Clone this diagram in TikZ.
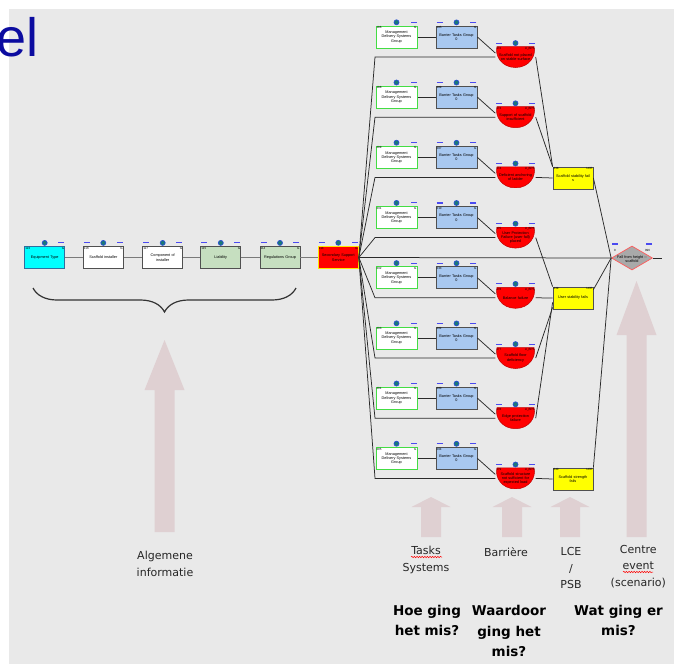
\documentclass[tikz,border=0pt]{standalone}
\usepackage{fontspec}
\setmainfont{DejaVu Sans}
\newfontfamily\arialf{Liberation Sans}
\usetikzlibrary{shapes.geometric,decorations.pathreplacing,decorations.pathmorphing,calc}
\definecolor{panel}{HTML}{E9E9E9}
\definecolor{navyt}{HTML}{0C0CA0}
\definecolor{pinkarr}{HTML}{DFD0D2}
\definecolor{dotfill}{HTML}{1A7878}
\definecolor{dotblue}{HTML}{2A4FD6}
\definecolor{dashblue}{HTML}{4A4AF0}
\definecolor{cyanbox}{HTML}{00FFFF}
\definecolor{cyanedge}{HTML}{2F6F9F}
\definecolor{greenbox}{HTML}{C6DFC0}
\definecolor{bluebox}{HTML}{A8C8F0}
\definecolor{mggreen}{HTML}{44DD44}
\definecolor{boxedge}{HTML}{505050}
\definecolor{chainline}{HTML}{7A7A7A}
\definecolor{linec}{HTML}{2A2A2A}
\definecolor{mainedge}{HTML}{FFE600}
\definecolor{dmfill}{HTML}{A9A9A9}
\definecolor{dmedge}{HTML}{FF5A5A}
\definecolor{yelbox}{HTML}{FFFF00}
\tikzset{
 numtxt/.style={font=\arialf\fontsize{3}{3.2}\selectfont, inner sep=0.8},
 nw/.style={label={[numtxt,anchor=north west]north west:#1}},
 ne/.style={label={[numtxt,anchor=north east]north east:#1}},
 box/.style={rectangle, draw=boxedge, line width=0.8, minimum width=40, minimum height=22, inner sep=0, text width=38, align=center, font=\arialf\fontsize{3.8}{4.3}\selectfont},
 chainbox/.style={box, fill=white},
 mgbox/.style={box, fill=white, draw=mggreen, line width=1, minimum width=41},
 bbox/.style={box, fill=bluebox, minimum width=41},
 ybox/.style={box, fill=yelbox},
 barrier/.style={rectangle, minimum width=40, minimum height=21, inner sep=0, text width=37, align=center, font=\arialf\fontsize{3.8}{4.3}\selectfont,
  path picture={\filldraw[fill=red, draw=red!75!black, line width=0.5]
   ([xshift=1.5pt]path picture bounding box.north west) -- ([xshift=-1.5pt]path picture bounding box.north east)
   .. controls ([xshift=1pt,yshift=-9pt]path picture bounding box.north east) and ([xshift=14pt]path picture bounding box.south) .. (path picture bounding box.south)
   .. controls ([xshift=-14pt]path picture bounding box.south) and ([xshift=-1pt,yshift=-9pt]path picture bounding box.north west) .. cycle;}},
 conn/.style={draw=linec, line width=0.75},
 chain/.style={draw=chainline, line width=1.3},
 dashc/.style={draw=dashblue, line width=1.1},
 bigarr/.style={fill=pinkarr},
 captxt/.style={font=\fontsize{11}{16.5}\selectfont, align=center, text=black!85, inner sep=0},
 qtxt/.style={font=\bfseries\fontsize{13.5}{20.5}\selectfont, align=center, inner sep=0},
 squig/.style={draw=red, line width=0.5, decorate, decoration={snake, amplitude=0.7, segment length=2.6}}
}
\newcommand\ndeco[3]{%
 \ifnum#2=1 \draw[dashc] ($(#1.north west)+(1,-3.2)$) -- ++(6,0);\fi
 \ifnum#3=1 \draw[dashc] ($(#1.north east)+(-1,-3.2)$) -- ++(-6,0);\fi
 \filldraw[fill=dotfill, draw=dotblue, line width=0.7] ($(#1.north)+(0,-3.2)$) circle[radius=2.5];}
\begin{document}
\begin{tikzpicture}[x=1pt,y=-1pt]
\useasboundingbox (0,0) rectangle (674,664);
\clip (0,0) rectangle (674,664);
\fill[white] (0,0) rectangle (674,664);
\fill[panel] (9,9) rectangle (674,664);
\node[anchor=base west, inner sep=0, text=navyt, font=\arialf\fontsize{54}{54}\selectfont] (ttl) at (-4,56) {el};

% big pale arrows
\fill[bigarr] (164.5,340) -- (184.5,390) -- (174.5,390) -- (174.5,532) -- (154.5,532) -- (154.5,390) -- (144.5,390) -- cycle;
\fill[bigarr] (636.5,281) -- (656.5,335) -- (646.5,335) -- (646.5,537) -- (626.5,537) -- (626.5,335) -- (616.5,335) -- cycle;
\foreach \ax in {431,512,570}{
 \fill[bigarr] (\ax,497) -- (\ax+19.5,507) -- (\ax+10,507) -- (\ax+10,537) -- (\ax-10,537) -- (\ax-10,507) -- (\ax-19.5,507) -- cycle;}

% left chain
\node[box, fill=cyanbox, draw=cyanedge, nw=122, ne=G] (c1) at (44.7,257.5) {Equipment Type};
\node[chainbox, nw=116, ne=G] (c2) at (103.3,257.5) {Scaffold installer};
\node[chainbox, nw=117, ne=G] (c3) at (162.7,257.5) {Component of\\installer};
\node[box, fill=greenbox, nw=115, ne=G] (c4) at (220.8,257.5) {Liability};
\node[box, fill=greenbox, nw=114, ne=G] (c5) at (280,257.5) {Regulations Group};
\draw[chain] (c1) -- (c2);
\draw[chain] (c2) -- (c3);
\draw[chain] (c3) -- (c4);
\draw[chain] (c4) -- (c5);
\node[box, fill=red, draw=mainedge, line width=1, nw=113, ne=G] (main) at (338.3,257.5) {Secondary Support\\Service};
\draw[chain] (c5) -- (main);
\ndeco{c1}{0}{1}
\ndeco{c2}{1}{1}
\ndeco{c3}{1}{1}
\ndeco{c4}{1}{1}
\ndeco{c5}{1}{1}
\ndeco{main}{1}{1}
\draw[draw=black!80, line width=1.2, decorate, decoration={brace, mirror, amplitude=24pt}] (33,288) -- (296,288);

% diamond (centre event)
\node[diamond, draw=dmedge, fill=dmfill, line width=0.7, minimum width=41, minimum height=24, inner sep=0] (dm) at (632,258) {};
\node[font=\arialf\fontsize{3.8}{4.3}\selectfont, align=center, inner sep=0] (dml) at (632,259) {Fall from height --\\scaffold};
\node[numtxt, anchor=north west] (dmn1) at (613,248) {0};
\node[numtxt, anchor=north east] (dmn2) at (651,248) {096};
\draw[dashc] (612,244) -- ++(6,0);
\draw[dashc] (652,244) -- ++(-6,0);
\coordinate (outr) at (662,258);
\draw[conn] (main.east) -- (dm.west);
\draw[conn] (dm.east) -- (outr);

% rows
\foreach \i/\gn/\bn/\rn/\rt in {
 1/186/185/172/{Scaffold not placed\\on stable surface},
 2/188/189/173/{Support of scaffold\\insufficient},
 3/209/207/174/{Deficient anchoring\\of ladder},
 4/231/210/175/{User Protection\\Failure (user fall)\\placed},
 5/232/233/176/{Balance failure},
 6/203/202/177/{Scaffold floor\\deficiency},
 7/201/200/178/{Edge protection\\failure},
 8/205/204/179/{Scaffold structure\\not sufficient for\\expected load}}
{
 \pgfmathsetmacro\cy{37+60.2*(\i-1)}
 \pgfmathsetmacro\ry{\cy+20}
 \node[mgbox, nw=\gn, ne=G] (g\i) at (396.5,\cy) {Management\\Delivery Systems\\Group};
 \node[bbox, nw=\bn, ne=G] (b\i) at (456.5,\cy) {Barrier Tasks Group\\0};
 \node[barrier, nw=\rn, ne=U\_BPS] (r\i) at (515.5,\ry) {\rt};
 \coordinate (p\i) at (375,\ry);
 \draw[conn] (g\i) -- (b\i);
 \draw[conn] (b\i.east) -- ($(r\i.west)+(0,-4)$);
 \draw[conn] (main.east) -- (p\i) -- (r\i.west);
 \ndeco{g\i}{0}{1}
 \ndeco{b\i}{1}{1}
 \ndeco{r\i}{1}{1}
}

% LCE boxes
\node[ybox, nw=038, ne=LCE] (y1) at (573,178) {Scaffold stability fail\\s};
\node[ybox, nw=039, ne=LCE] (y2) at (573,298) {User stability fails};
\node[ybox, nw=040, ne=LCE] (y3) at (573,479) {Scaffold strength\\fails};
\draw[conn] (r1.east) -- (y1.north west);
\draw[conn] (r2.east) -- (y1.north west);
\draw[conn] (r3.east) -- (y1.west);
\draw[conn] (r4.east) -- (y2.north west);
\draw[conn] (r5.east) -- (y2.west);
\draw[conn] (r6.east) -- ($(y2.south west)+(0,-2)$);
\draw[conn] (r7.east) -- ($(y2.south west)+(0,-7)$);
\draw[conn] (r8.east) -- (y3.west);
\draw[conn] (y1.east) -- (dm.west);
\draw[conn] ($(y2.north east)+(0,3)$) -- (dm.west);
\draw[conn] (y3.north east) -- (dm.west);

% captions
\node[captxt] (algi) at (165,564) {Algemene\\informatie};
\node[captxt] (tsk) at (426,560) {Tasks\\Systems};
\node[captxt] (bar) at (506,552) {Barrière};
\node[captxt] (lce) at (571,568) {LCE\\/\\PSB};
\node[captxt] (cen) at (638.3,566.5) {Centre\\event\\(scenario)};
\coordinate (sq1a) at (411,557);
\coordinate (sq1b) at (442,557);
\coordinate (sq2a) at (623,572);
\coordinate (sq2b) at (653,572);
\draw[squig] (sq1a) -- (sq1b);
\draw[squig] (sq2a) -- (sq2b);
\node[qtxt] (q1) at (427,620.5) {Hoe ging\\het mis?};
\node[qtxt] (q2) at (509,631) {Waardoor\\ging het\\mis?};
\node[qtxt] (q3) at (618.5,620.5) {Wat ging er\\mis?};
\end{tikzpicture}
\end{document}
